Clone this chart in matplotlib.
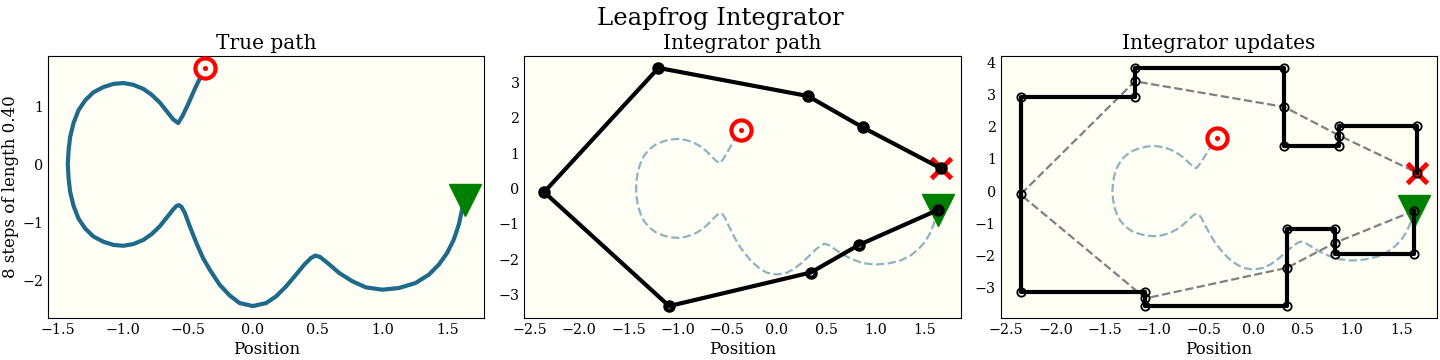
import matplotlib.pyplot as plt

plt.rcParams['font.family'] = 'DejaVu Serif'

#
# Values (position, momentum)
#

# true path, from the start point to the end point
true_q = [1.63, 1.611, 1.586, 1.547, 1.496, 1.432, 1.355, 1.253, 1.125, 0.997,
          0.870, 0.767, 0.665, 0.575, 0.517, 0.481, 0.448, 0.396, 0.332, 0.256,
          0.179, 0.102, 0.000, -0.102, -0.179, -0.256, -0.332, -0.384, -0.435, -0.486,
          -0.524, -0.550, -0.570, -0.588, -0.614, -0.665, -0.716, -0.780, -0.844, -0.921,
          -0.997, -1.074, -1.151, -1.228, -1.292, -1.343, -1.381, -1.407, -1.419, -1.425,
          -1.419, -1.407, -1.381, -1.343, -1.292, -1.228, -1.151, -1.074, -0.997, -0.921,
          -0.844, -0.780, -0.716, -0.665, -0.614, -0.575, -0.542, -0.499, -0.448, -0.409,
          -0.365]
true_p = [-0.61, -0.776, -1.034, -1.293, -1.523, -1.724, -1.897, -2.040, -2.126, -2.155,
          -2.115, -2.011, -1.868, -1.695, -1.592, -1.569, -1.609, -1.724, -1.897, -2.098,
          -2.270, -2.385, -2.437, -2.385, -2.253, -2.069, -1.810, -1.609, -1.351, -1.063,
          -0.833, -0.728, -0.700, -0.715, -0.776, -0.920, -1.063, -1.200, -1.300, -1.370,
          -1.400, -1.385, -1.330, -1.240, -1.100, -0.930, -0.710, -0.470, -0.240, 0.0,
          0.240, 0.470, 0.710, 0.930, 1.100, 1.240, 1.330, 1.385, 1.400, 1.370,
          1.300, 1.200, 1.063, 0.920, 0.776, 0.712, 0.833, 1.034, 1.293, 1.477,
          1.66]

# leapfrog points after each full step
step_q = [1.63, 0.827, 0.344, -1.09, -2.355, -1.198, 0.314, 0.871, 1.661]
step_p = [-0.61, -1.605, -2.38, -3.33, -0.105, 3.41, 2.615, 1.725, 0.568]
# momentum after each half step
half_p = [-1.967, -1.19, -3.57, -3.125, 2.926, 3.825, 1.415, 2.035]

step_size = 0.40
n_steps = len(half_p)

# build the staircase of updates: half momentum, full position, half momentum
upd_q = [step_q[0]]
upd_p = [step_p[0]]
for i in range(n_steps):
    upd_q += [step_q[i], step_q[i + 1], step_q[i + 1]]
    upd_p += [half_p[i], half_p[i], step_p[i + 1]]

bg = '#fefef5'
path_color = '#1f6a8a'


def draw_markers(ax, with_x=True):
    ax.plot(true_q[-1], true_p[-1], 'o', ms=14.5, mfc=bg, mec='red', mew=3, zorder=4)
    ax.plot(true_q[-1], true_p[-1], 'o', ms=2.6, color='red', zorder=5)
    ax.plot(true_q[0], true_p[0], 'v', ms=23, color='green', zorder=4)
    if with_x:
        ax.plot(step_q[-1], step_p[-1], 'x', ms=14, mew=3.5, color='red', zorder=4)


fig, axes = plt.subplots(1, 3, figsize=(14.4, 3.6), dpi=100)
fig.subplots_adjust(left=0.0333, right=0.998, bottom=0.1167, top=0.8444, wspace=0.0915)

for ax in axes:
    ax.set_facecolor(bg)
    ax.tick_params(length=0, labelsize=10.3)
    ax.set_xlabel('Position', fontsize=12, labelpad=3)

# true path
ax = axes[0]
ax.plot(true_q, true_p, color=path_color, lw=3)
draw_markers(ax, with_x=False)
ax.set_title('True path', fontsize=14.5, pad=5)
ax.set_ylabel('8 steps of length {:.2f}'.format(step_size), fontsize=12, labelpad=2)

# integrator path
ax = axes[1]
ax.plot(true_q, true_p, '--', color=path_color, alpha=0.5, lw=1.6)
draw_markers(ax)
ax.plot(step_q, step_p, 'o-', color='k', lw=3, ms=6, mfc='none', mew=3, zorder=6)
ax.set_title('Integrator path', fontsize=14.5, pad=5)

# integrator updates
ax = axes[2]
ax.plot(true_q, true_p, '--', color=path_color, alpha=0.5, lw=1.6)
ax.plot(step_q, step_p, '--', color='gray', lw=1.6)
draw_markers(ax)
ax.plot(upd_q, upd_p, 'o-', color='k', lw=3, ms=6, mfc='none', mew=1.3, zorder=6)
ax.set_title('Integrator updates', fontsize=14.5, pad=5)

fig.suptitle('Leapfrog Integrator', fontsize=17.5, y=0.98)
fig.savefig('out.png', dpi=100, facecolor='white')
